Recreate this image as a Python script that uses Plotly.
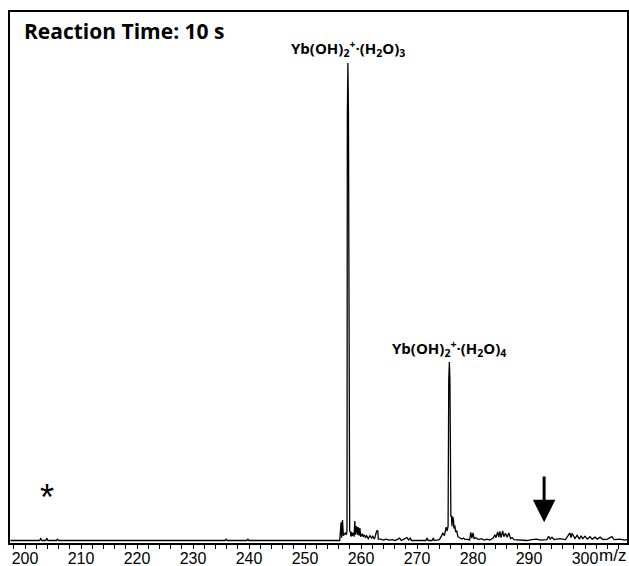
import plotly.graph_objects as go

# Spectrum (m/z, relative intensity)
mz = [197.4, 202.6, 202.8, 203.0, 203.7, 203.9, 204.1, 205.6, 205.8, 206.0,
      235.7, 235.9, 236.1, 239.6, 239.8, 240.0,
      256.2, 256.45, 256.55, 256.7, 256.85, 257.0, 257.2, 257.4,
      257.5, 257.56, 257.66, 257.76, 257.82, 257.93, 257.98,
      258.1, 258.2, 258.3, 258.45, 258.6, 258.75, 258.9, 259.0, 259.2, 259.35,
      259.5, 259.65, 259.8, 259.95, 260.2, 260.4, 260.6, 260.8, 261.0, 261.3,
      261.6, 261.9, 262.1, 262.4, 262.8, 263.0, 263.1, 263.5, 264.0, 264.5,
      265.0, 265.6, 266.1, 266.9, 267.2, 268.2, 268.5, 268.8, 269.0, 271.6,
      271.8, 272.0, 272.7, 272.9, 273.1, 274.0, 274.3, 274.6, 274.9, 275.2,
      275.4, 275.55, 275.67, 275.78, 275.88, 275.94, 276.0, 276.05,
      276.15, 276.25, 276.35, 276.5, 276.6, 276.75, 276.9, 277.1, 277.3, 277.6,
      278.0, 278.3, 278.6, 279.0, 279.4, 279.6, 279.8, 280.0, 280.2, 280.5,
      281.0, 281.5, 282.0, 282.5, 283.0, 283.6, 283.9, 284.1, 284.4, 284.6,
      284.8, 285.0, 285.3, 285.5, 285.8, 286.1, 286.4, 286.7, 287.0, 287.3,
      288.0, 289.6, 290.5, 291.4, 292.0, 293.2, 293.5, 293.8, 294.1, 294.5,
      295.5, 296.5, 297.3, 297.5, 297.7, 298.2, 298.6, 299.0, 299.3, 299.6,
      300.0, 300.4, 300.9, 301.3, 301.8, 302.2, 302.7, 303.2, 304.0, 304.8,
      305.2, 306.3, 307.0, 307.5]
intensity = [0, 0, 0.4, 0, 0, 0.45, 0, 0, 0.25, 0,
             0, 0.25, 0, 0, 0.25, 0,
             0, 3.8, 0.6, 4.3, 1.0, 1.2, 1.6, 1.2,
             2, 89, 100, 89, 34, 34, 2,
             1.8, 0.8, 1.8, 1.0, 1.6, 0.8, 4.1, 1.2, 3.0, 1.2,
             2.8, 1.0, 2.6, 0.8, 1.4, 0.8, 1.2, 0.6, 1.0, 0.4,
             1.0, 0.5, 0.9, 0.3, 2.0, 2.0, 0.3, 0.3, 0.1, 0.3,
             0.1, 0.2, 0, 0.5, 0, 0.6, 0.1, 0.5, 0, 0,
             0.5, 0, 0, 0.5, 0, 0.2, 0.8, 1.5, 1.0, 2.8,
             2.0, 3, 33.6, 37.4, 33.6, 15.2, 15.2, 5,
             5.2, 3.0, 5.0, 4.5, 2.5, 3.2, 1.8, 2.0, 0.8, 0.6,
             0.3, 0.5, 0.2, 0.3, 0.1, 1.7, 0.5, 1.6, 0.4, 0.6,
             0.2, 0.4, 0.1, 0.3, 0.1, 0.5, 1.2, 0.6, 1.8, 0.7,
             1.9, 0.6, 2.0, 0.8, 1.5, 0.7, 1.6, 0.4, 0.6, 0.2,
             0.1, 0.0, 0.2, 0.3, 0.1, 0.2, 0.9, 0.3, 0.7, 0.2,
             0.4, 0.2, 1.6, 0.6, 1.5, 0.4, 1.1, 0.3, 1.0, 0.4,
             0.9, 0.3, 0.8, 0.3, 0.7, 0.3, 0.7, 0.2, 0.3, 0.8,
             0.2, 0.3, 0.1, 0.2]

tick_vals = [200, 210, 220, 230, 240, 250, 260, 270, 280, 290, 300]
tick_text = [str(v) for v in tick_vals]

peak_labels = ["Yb(OH)<sub>2</sub><sup>+</sup>·(H<sub>2</sub>O)<sub>3</sub>",
               "Yb(OH)<sub>2</sub><sup>+</sup>·(H<sub>2</sub>O)<sub>4</sub>"]
peak_label_x = [257.7, 275.8]
peak_label_y = [103.0, 40.3]

arrow_x = 292.7
arrow_top = 13.7
arrow_tip = 3.8
star_x = 203.9
star_y = 9.0

TICKFONT = "Liberation Sans"

fig = go.Figure()
fig.add_trace(go.Scatter(x=mz, y=intensity, mode="lines",
                         line=dict(color="black", width=1.3), hoverinfo="skip"))

for t, x, y in zip(peak_labels, peak_label_x, peak_label_y):
    fig.add_annotation(x=x, y=y, xref="x", yref="y", text="<b>" + t + "</b>",
                       showarrow=False, font=dict(family="Open Sans", size=15, color="black"))

fig.add_annotation(x=arrow_x, y=arrow_tip, ax=arrow_x, ay=arrow_top,
                   xref="x", yref="y", axref="x", ayref="y", text="",
                   showarrow=True, arrowhead=2, arrowsize=1.5, arrowwidth=3,
                   arrowcolor="black")
fig.add_annotation(x=star_x, y=star_y, xref="x", yref="y", text="*",
                   showarrow=False, font=dict(family="Liberation Sans", size=36, color="black"))

fig.add_annotation(x=0.019, y=0.964, xref="paper", yref="paper", xanchor="left",
                   yanchor="middle", text="<b>Reaction Time: 10 s</b>", showarrow=False,
                   font=dict(family="Open Sans", size=21, color="black"))
fig.add_annotation(x=0.977, y=-0.023, xref="paper", yref="paper", xanchor="center",
                   yanchor="middle", text="m/z", showarrow=False,
                   font=dict(family=TICKFONT, size=17, color="black"))

fig.update_layout(
    width=629, height=566, margin=dict(l=10, r=2, t=12, b=23, autoexpand=False),
    paper_bgcolor="white", plot_bgcolor="white", showlegend=False,
    xaxis=dict(range=[197.32, 307.5], tickvals=tick_vals, ticktext=tick_text,
               automargin=False,
               ticks="outside", ticklen=4, tickwidth=1, tickcolor="black",
               ticklabelstandoff=-4,
               minor=dict(dtick=2, tick0=200, ticks="outside", ticklen=4, tickwidth=1,
                          tickcolor="black"),
               showline=True, linecolor="black", linewidth=2, mirror=True,
               showgrid=False, zeroline=False,
               tickfont=dict(family=TICKFONT, size=16, color="black")),
    yaxis=dict(range=[-0.52, 110.7], showticklabels=False, ticks="", automargin=False,
               showline=True, linecolor="black", linewidth=2, mirror=True,
               showgrid=False, zeroline=False),
)

fig.write_html("out.html", config={"displayModeBar": False},
               post_script="document.body.style.margin='0';document.body.style.overflow='hidden';")
